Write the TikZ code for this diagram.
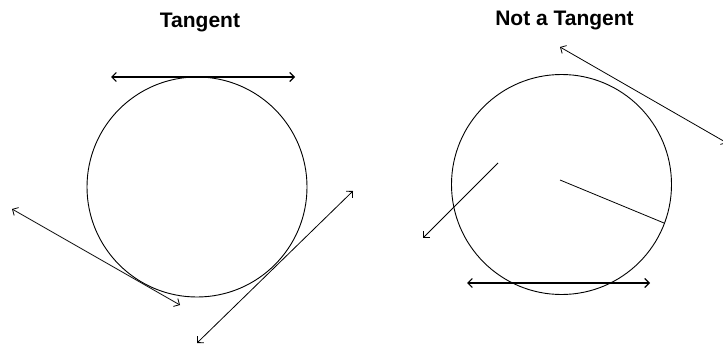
\documentclass[tikz,border=0pt]{standalone}
\usepackage{fontspec}
\setmainfont{Liberation Sans}
\usetikzlibrary{arrows.meta}
\begin{document}
\begin{tikzpicture}[x=1pt,y=-1pt,
  circ/.style={circle,draw,line width=0.9pt,minimum size=220pt,inner sep=0pt},
  dbl/.style={line width=0.8pt,{Straight Barb[length=4.5pt,width=9pt]}-{Straight Barb[length=4.5pt,width=9pt]}},
  sgl/.style={line width=0.8pt,-{Straight Barb[length=4.5pt,width=9pt]}},
  plain/.style={line width=0.8pt},
  ttl/.style={font=\bfseries\fontsize{21}{23}\selectfont,anchor=base,inner sep=0pt}]
\useasboundingbox (0,0) rectangle (723,345);
\node[ttl] (t1) at (200,28) {Tangent};
\node[ttl] (t2) at (564.5,26) {Not a Tangent};
\node[circ] (c1) at (197,187) {};
\node[circ] (c2) at (561.5,184.5) {};
% left: tangents
\coordinate (a1) at (111,77);
\coordinate (a2) at (295,77);
\draw[dbl,line width=1.1pt] (a1) -- (a2);
\coordinate (b1) at (12,209);
\coordinate (b2) at (180,305);
\draw[dbl] (b1) -- (b2);
\coordinate (d1) at (353,191);
\coordinate (d2) at (197,343);
\draw[dbl] (d1) -- (d2);
% right: not tangents
\coordinate (e1) at (467,283);
\coordinate (e2) at (650,283);
\draw[dbl,line width=1.1pt] (e1) -- (e2);
\coordinate (f1) at (560,180);
\coordinate (f2) at (664,223);
\draw[plain] (f1) -- (f2);
\coordinate (g1) at (498,163);
\coordinate (g2) at (423,238);
\draw[sgl] (g1) -- (g2);
\coordinate (h1) at (727,143);
\coordinate (h2) at (560,47);
\draw[dbl] (h1) -- (h2);
\end{tikzpicture}
\end{document}
